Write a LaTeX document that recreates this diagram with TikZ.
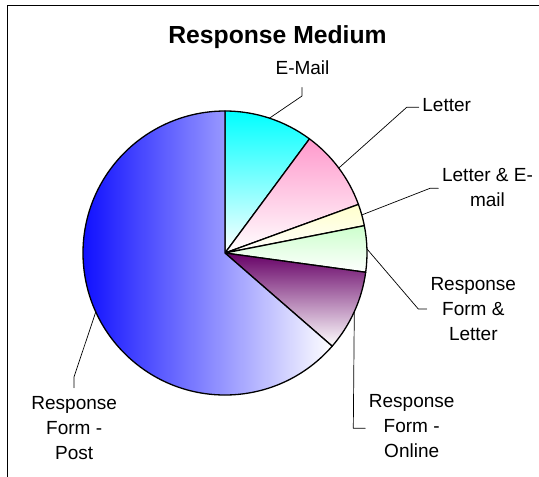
\documentclass[tikz,border=0pt]{standalone}
\usepackage{fontspec}
\setmainfont{Liberation Sans}
\definecolor{mailcyan}{RGB}{0,255,255}
\definecolor{letterpink}{RGB}{255,153,204}
\definecolor{bothyellow}{RGB}{255,255,204}
\definecolor{formgreen}{RGB}{204,255,204}
\definecolor{onlineplum}{RGB}{102,0,102}
\definecolor{postblue}{RGB}{0,0,255}

\begin{document}
\begin{tikzpicture}[x=1pt,y=-1pt,line cap=round,line join=round,
  slice/.style={draw=black,line width=1.3pt},
  leader/.style={draw=black,line width=0.7pt},
  lbl/.style={align=center,inner sep=3.5pt,font=\fontsize{19}{25}\selectfont}]
\useasboundingbox (0,0) rectangle (539,477);
\draw[line width=1.5pt] (7.7,477) -- (7.7,5.3) -- (539,5.3);
\begin{scope}[shift={(225,253)}]
\shadedraw[slice,top color=mailcyan,bottom color=white] (0,0) -- (-90:142) arc[start angle=-90,end angle=-53.5,radius=142] -- cycle;
\shadedraw[slice,top color=letterpink,bottom color=white] (0,0) -- (-53.5:142) arc[start angle=-53.5,end angle=-20,radius=142] -- cycle;
\shadedraw[slice,top color=bothyellow,bottom color=white] (0,0) -- (-20:142) arc[start angle=-20,end angle=-11.1,radius=142] -- cycle;
\shadedraw[slice,top color=formgreen,bottom color=white] (0,0) -- (-11.1:142) arc[start angle=-11.1,end angle=7.8,radius=142] -- cycle;
\shadedraw[slice,top color=onlineplum,bottom color=white] (0,0) -- (7.8:142) arc[start angle=7.8,end angle=41,radius=142] -- cycle;
\shadedraw[slice,left color=postblue,right color=white] (0,0) -- (41:142) arc[start angle=41,end angle=270,radius=142] -- cycle;
\coordinate (emailpt) at (-71.75:142);
\coordinate (letterpt) at (-36.75:142);
\coordinate (bothpt) at (-15.55:142);
\coordinate (formpt) at (-1.65:142);
\coordinate (onlinept) at (24.4:142);
\coordinate (postpt) at (155.5:142);
\end{scope}
\coordinate (emailbend) at (302,96);
\coordinate (letterbend) at (406.7,107.3);
\coordinate (bothbend) at (430,188.3);
\coordinate (formbend) at (418.3,309);
\coordinate (onlinebend) at (353.3,428.3);
\coordinate (postbend) at (74,377);
\node[font=\fontsize{24.7}{30}\selectfont\bfseries] (title) at (277.5,37.2) {Response Medium};
\node[lbl] (email) at (302.5,68.2) {E-Mail};
\node[lbl] (letter) at (446.7,105) {Letter};
\node[lbl] (both) at (487.5,187.4) {Letter \& E-\\mail};
\node[lbl] (form) at (473.3,309) {Response\\Form \&\\Letter};
\node[lbl] (online) at (411.7,426.5) {Response\\Form -\\Online};
\node[lbl] (post) at (74.2,428.2) {Response\\Form -\\Post};
\draw[leader,shorten >=8.5pt] (emailpt) -- (emailbend) -- (emailbend |- email.south);
\draw[leader] (letterpt) -- (letterbend) -- (letterbend -| letter.west);
\draw[leader] (bothpt) -- (bothbend) -- (bothbend -| both.west);
\draw[leader] (formpt) -- (formbend) -- (formbend -| form.west);
\draw[leader] (onlinept) -- (onlinebend) -- (onlinebend -| online.west);
\draw[leader,shorten >=5pt] (postpt) -- (postbend) -- (postbend |- post.north);
\end{tikzpicture}
\end{document}
